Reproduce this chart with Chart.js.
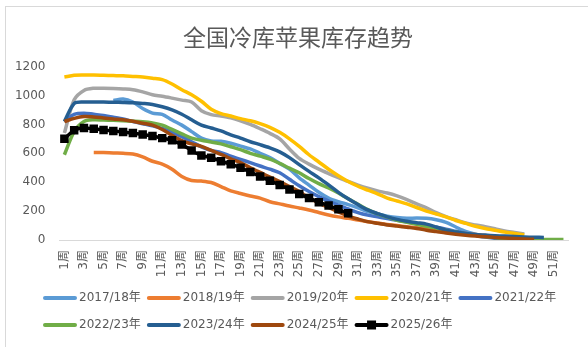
<!DOCTYPE html>
<html>
<head>
<meta charset="utf-8">
<script src="https://cdn.jsdelivr.net/npm/chart.js@4/dist/chart.umd.min.js"></script>
<style>
  html, body { margin: 0; padding: 0; background: #fff; overflow: hidden; }
  #frame { position: absolute; left: 5px; top: 6px; width: 700px; height: 500px; border: 1px solid #d9d9d9; }
  #wrap { position: absolute; left: 0; top: 0; width: 588px; height: 347px; }
</style>
</head>
<body>
<div id="frame"></div>
<div id="wrap"><canvas id="chart"></canvas></div>
<script>
// week labels 1周 .. 52周
const weeks = [];
for (let i = 1; i <= 52; i++) weeks.push(i + '周');

const seriesNames = ['2017/18年', '2018/19年', '2019/20年', '2020/21年', '2021/22年',
                     '2022/23年', '2023/24年', '2024/25年', '2025/26年'];
const seriesColors = ['#5b9bd5', '#ed7d31', '#a5a5a5', '#ffc000', '#4472c4',
                      '#70ad47', '#255e91', '#9e480e', '#000000'];

// stock values, week 1 first; null = no data yet
const s1718 = [null, null, null, null, null, 965, 975, 955, 910, 878, 870, 830, 795, 750, 705, 686, 683, 670, 650, 630,
  600, 570, 530, 490, 430, 380, 330, 290, 265, 245, 222, 196, 180, 165, 155, 150, 152, 150, 140, 122,
  90, 60, 40, 25, 15, 8, 4];
const s1819 = [null, null, null, 605, 605, 602, 600, 595, 575, 545, 525, 490, 440, 412, 408, 398, 370, 340, 322, 305,
  290, 265, 250, 235, 222, 208, 190, 173, 160, 150, 138, 127, 117, 108, 100, 92, 84, 76, 68, 60,
  52, 45, 38, 31, 25, 19, 14, 10];
const s1920 = [740, 970, 1035, 1050, 1050, 1048, 1045, 1040, 1025, 1005, 995, 982, 968, 955, 895, 868, 858, 845, 825, 800,
  770, 738, 700, 630, 565, 525, 490, 460, 432, 405, 380, 358, 340, 325, 305, 280, 250, 222, 190, 162,
  140, 118, 104, 92, 78, 62, 52, 42];
const s2021 = [1128, 1140, 1142, 1142, 1140, 1138, 1136, 1132, 1128, 1120, 1110, 1080, 1040, 1005, 960, 905, 875, 858, 840, 825,
  805, 780, 745, 700, 648, 590, 540, 490, 445, 405, 372, 345, 320, 290, 270, 250, 225, 200, 180, 160,
  135, 115, 95, 80, 68, 55, 45, 35];
const s2122 = [820, 870, 878, 870, 862, 850, 838, 820, 805, 790, 772, 745, 715, 680, 645, 620, 605, 580, 558, 535,
  512, 490, 465, 420, 375, 335, 300, 270, 242, 215, 190, 172, 160, 148, 137, 125, 113, 100, 88, 75,
  60, 45, 32, 20, 12, 6, 3];
const s2223 = [590, 750, 820, 832, 830, 828, 825, 822, 818, 810, 795, 765, 735, 705, 690, 678, 665, 645, 625, 600,
  580, 560, 530, 497, 465, 425, 390, 360, 325, 285, 248, 210, 180, 158, 137, 122, 108, 95, 82, 68,
  55, 42, 32, 24, 17, 11, 7, 5, 3, 3, 3, 3];
const s2324 = [820, 945, 955, 955, 955, 953, 952, 950, 945, 938, 922, 900, 870, 832, 795, 775, 755, 728, 705, 680,
  660, 638, 610, 570, 522, 475, 430, 381, 330, 285, 245, 208, 183, 160, 143, 130, 120, 110, 90, 68,
  55, 45, 38, 34, 30, 27, 24, 21, 19, 18];
const s2425 = [820, 842, 855, 852, 845, 838, 832, 822, 808, 795, 765, 725, 688, 665, 648, 620, 592, 562, 535, 500,
  468, 435, 404, 370, 335, 290, 255, 225, 195, 165, 145, 127, 115, 104, 96, 88, 80, 68, 58, 48,
  40, 33, 27, 22, 18, 14, 10, 7, 5];
const s2526 = [700, 760, 775, 770, 762, 755, 748, 740, 730, 720, 705, 690, 660, 620, 585, 570, 545, 525, 500, 470,
  440, 410, 380, 350, 318, 290, 262, 238, 212, 185];

const seriesValues = [s1718, s1819, s1920, s2021, s2122, s2223, s2324, s2425, s2526];

const yTicks = [0, 200, 400, 600, 800, 1000, 1200];

const datasets = seriesValues.map((vals, i) => {
  const isLast = i === seriesValues.length - 1;
  return {
    label: seriesNames[i],
    data: vals,
    borderColor: seriesColors[i],
    backgroundColor: seriesColors[i],
    borderWidth: 3.5,
    tension: 0.3,
    pointRadius: isLast ? 6 : 0,
    pointHoverRadius: isLast ? 6 : 0,
    pointStyle: 'rect',
    pointBorderWidth: 0,
    order: seriesValues.length - i // later seasons drawn on top
  };
});

// legend: line samples drawn here so the row height can differ from the line thickness
const legendLines = {
  id: 'legendLines',
  afterDraw(chart) {
    const lg = chart.legend;
    if (!lg || !lg.legendHitBoxes) return;
    const ctx = chart.ctx;
    lg.legendItems.forEach((item, k) => {
      const hb = lg.legendHitBoxes[k];
      const idx = item.datasetIndex;
      const y = hb.top + hb.height / 2;
      ctx.save();
      ctx.strokeStyle = seriesColors[idx];
      ctx.lineWidth = 4;
      ctx.lineCap = 'round';
      ctx.beginPath();
      ctx.moveTo(hb.left + 2, y);
      ctx.lineTo(hb.left + 32, y);
      ctx.stroke();
      if (idx === seriesValues.length - 1) {
        ctx.fillStyle = '#000';
        ctx.fillRect(hb.left + 17 - 4.5, y - 4.5, 9, 9);
      }
      ctx.restore();
    });
  }
};

// move the title and legend boxes to where they sit in the original
const boxShift = {
  id: 'boxShift',
  afterLayout(chart) {
    if (chart.titleBlock) chart.titleBlock.left += 11;
    if (chart.legend) {
      chart.legend.left += 25;
      chart.legend.right += 25;
    }
  }
};

const FONT = '"DejaVu Sans", "Noto Sans CJK SC", sans-serif';
const TITLE_FONT = '"Noto Sans CJK SC", sans-serif';

new Chart(document.getElementById('chart'), {
  type: 'line',
  data: { labels: weeks, datasets: datasets },
  plugins: [legendLines, boxShift],
  options: {
    responsive: true,
    maintainAspectRatio: false,
    animation: false,
    layout: { padding: { left: 12, right: 15, top: 0, bottom: 1.5 } },
    plugins: {
      title: {
        display: true,
        text: '全国冷库苹果库存趋势',
        color: '#595959',
        font: { family: TITLE_FONT, size: 23, weight: 'normal' },
        padding: { top: 23, bottom: 16 }
      },
      legend: {
        position: 'bottom',
        align: 'start',
        labels: {
          color: '#595959',
          font: { family: FONT, size: 12 },
          boxWidth: 30,
          boxHeight: 21,
          padding: 6,
          sort: (a, b) => a.datasetIndex - b.datasetIndex,
          generateLabels: (chart) => Chart.defaults.plugins.legend.labels.generateLabels(chart).map(l => ({
            ...l, fillStyle: 'rgba(0,0,0,0)', strokeStyle: 'rgba(0,0,0,0)', lineWidth: 0
          }))
        }
      },
      tooltip: { enabled: false }
    },
    scales: {
      x: {
        offset: true,
        afterFit: (scale) => { scale.height = 41.5; },
        grid: { display: false, drawTicks: false },
        border: { display: true, color: '#d9d9d9', width: 1 },
        ticks: {
          autoSkip: false,
          maxRotation: 90,
          minRotation: 90,
          padding: 10,
          color: '#595959',
          font: { family: FONT, size: 12 },
          callback: function (val, i) { return i % 2 === 0 ? this.getLabelForValue(val) : ''; }
        }
      },
      y: {
        min: 0,
        max: 1200,
        afterFit: (scale) => { scale.width = 47.5; },
        afterBuildTicks: (scale) => { scale.ticks = yTicks.map(v => ({ value: v })); },
        grid: { display: false, drawTicks: false },
        border: { display: false },
        ticks: {
          padding: 14,
          color: '#595959',
          font: { family: FONT, size: 12 },
          callback: (v) => String(v)
        }
      }
    }
  }
});
</script>
</body>
</html>
